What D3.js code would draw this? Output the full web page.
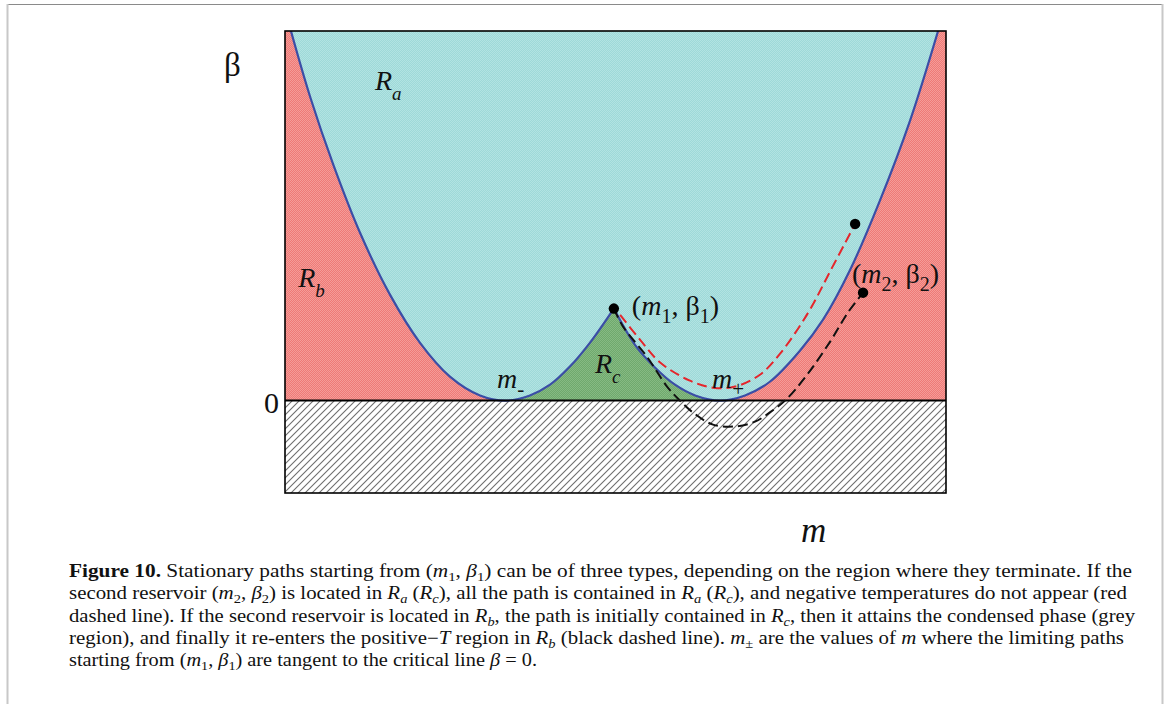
<!DOCTYPE html>
<html>
<head>
<meta charset="utf-8">
<script src="https://cdn.jsdelivr.net/npm/d3@7"></script>
<style>
  html, body { margin: 0; padding: 0; background: #fff; }
  svg { display: block; }
  text { font-family: "Liberation Serif", "DejaVu Serif", serif; fill: #111; }
</style>
</head>
<body>
<svg id="fig" width="1167" height="704"></svg>
<script>
// Phase boundary beta(m): left well (from the top edge down to m-, up to the cusp)
const boundaryLeft = [
  [-0.982, 1.000], [-0.924, 0.822], [-0.855, 0.641], [-0.773, 0.454],
  [-0.682, 0.286], [-0.592, 0.157], [-0.501, 0.065], [-0.410, 0.014],
  [-0.334, 0.000], [-0.259, 0.014], [-0.198, 0.043], [-0.138, 0.092],
  [-0.077, 0.157], [-0.005, 0.249]
];
// right well (from the cusp down to m+, up to the top edge)
const boundaryRight = [
  [-0.005, 0.249], [0.059, 0.151], [0.120, 0.089], [0.180, 0.043],
  [0.241, 0.014], [0.316, 0.000], [0.392, 0.014], [0.467, 0.051],
  [0.558, 0.135], [0.628, 0.219], [0.710, 0.354], [0.800, 0.541],
  [0.891, 0.757], [0.976, 1.000]
];
const mMinus = -0.334;
const mPlus = 0.316;

// Stationary path that stays in Ra (red dashed)
const pathRed = [
  [0.014, 0.232], [0.074, 0.165], [0.135, 0.103], [0.225, 0.054],
  [0.295, 0.035], [0.362, 0.038], [0.437, 0.070], [0.498, 0.127],
  [0.583, 0.238], [0.649, 0.349], [0.725, 0.478]
];
// Stationary path that crosses the condensed phase (black dashed)
const pathBlack = [
  [-0.005, 0.249], [0.023, 0.200], [0.095, 0.119], [0.156, 0.038],
  [0.195, 0.000], [0.234, -0.032], [0.295, -0.065], [0.362, -0.070],
  [0.422, -0.057], [0.467, -0.032], [0.513, 0.000], [0.573, 0.062],
  [0.649, 0.159], [0.703, 0.238], [0.749, 0.292]
];
// Reservoir points
const point1 = [-0.005, 0.249];
const point2 = [0.749, 0.292];
const pointRedEnd = [0.725, 0.478];

// Region labels: [main, subscript, m, beta]
const regionLabels = [
  ["R", "a", -0.728, 0.841],
  ["R", "b", -0.960, 0.308],
  ["R", "c", -0.062, 0.076]
];

const captionLines = [
  [["b", "Figure 10."], ["", " Stationary paths starting from ("], ["i", "m"], ["sub", "1"], ["", ", "], ["i", "β"], ["sub", "1"], ["", ") can be of three types, depending on the region where they terminate. If the"]],
  [["", "second reservoir ("], ["i", "m"], ["sub", "2"], ["", ", "], ["i", "β"], ["sub", "2"], ["", ") is located in "], ["i", "R"], ["isub", "a"], ["", " ("], ["i", "R"], ["isub", "c"], ["", "), all the path is contained in "], ["i", "R"], ["isub", "a"], ["", " ("], ["i", "R"], ["isub", "c"], ["", "), and negative temperatures do not appear (red"]],
  [["", "dashed line). If the second reservoir is located in "], ["i", "R"], ["isub", "b"], ["", ", the path is initially contained in "], ["i", "R"], ["isub", "c"], ["", ", then it attains the condensed phase (grey"]],
  [["", "region), and finally it re-enters the positive\u2212"], ["i", "T"], ["", " region in "], ["i", "R"], ["isub", "b"], ["", " (black dashed line). "], ["i", "m"], ["sub", "\u00b1"], ["", " are the values of "], ["i", "m"], ["", " where the limiting paths"]],
  [["", "starting from ("], ["i", "m"], ["sub", "1"], ["", ", "], ["i", "β"], ["sub", "1"], ["", ") are tangent to the critical line "], ["i", "β"], ["", " = 0."]]
];
const captionWidths = [1063, 1058, 1066, 1055, 468];

const svg = d3.select("#fig");
const W = 1167, H = 704;

// page frame
svg.append("line").attr("x1", 7).attr("x2", 1163).attr("y1", 4.5).attr("y2", 4.5)
  .attr("stroke", "#8a8a8a").attr("stroke-width", 1.2);
svg.append("line").attr("x1", 7.5).attr("x2", 7.5).attr("y1", 4).attr("y2", H)
  .attr("stroke", "#c8c8c8").attr("stroke-width", 2);
svg.append("line").attr("x1", 1162.5).attr("x2", 1162.5).attr("y1", 4).attr("y2", H)
  .attr("stroke", "#c8c8c8").attr("stroke-width", 2);

const plot = { left: 285, right: 946, top: 31, bottom: 493 };
const x = d3.scaleLinear().domain([-1, 1]).range([plot.left, plot.right]);
const y = d3.scaleLinear().domain([-0.25, 1]).range([plot.bottom, plot.top]);

const defs = svg.append("defs");
function checker(id, a, b) {
  const p = defs.append("pattern").attr("id", id).attr("patternUnits", "userSpaceOnUse")
    .attr("width", 2).attr("height", 2);
  p.append("rect").attr("width", 2).attr("height", 2).attr("fill", a);
  p.append("rect").attr("width", 1).attr("height", 1).attr("fill", b);
  p.append("rect").attr("x", 1).attr("y", 1).attr("width", 1).attr("height", 1).attr("fill", b);
}
checker("fillRed", "#ee7a77", "#f59c98");
checker("fillCyan", "#9ed9d8", "#b2e3e2");
checker("fillGreen", "#6fa96d", "#86ba83");

const hatch = defs.append("pattern").attr("id", "hatch").attr("patternUnits", "userSpaceOnUse")
  .attr("width", 7).attr("height", 7);
hatch.append("rect").attr("width", 7).attr("height", 7).attr("fill", "#fff");
hatch.append("path").attr("d", "M-1,1 l2,-2 M0,7 l7,-7 M6,8 l2,-2")
  .attr("stroke", "#6e6e6e").attr("stroke-width", 1.1);

defs.append("clipPath").attr("id", "plotClip").append("rect")
  .attr("x", plot.left).attr("y", plot.top)
  .attr("width", plot.right - plot.left).attr("height", plot.bottom - plot.top);

const g = svg.append("g").attr("clip-path", "url(#plotClip)");

const line = d3.line().x(d => x(d[0])).y(d => y(d[1])).curve(d3.curveCatmullRom.alpha(0.5));

// Rb: everything with beta > 0
g.append("rect").attr("x", x(-1)).attr("y", y(1))
  .attr("width", x(1) - x(-1)).attr("height", y(0) - y(1)).attr("fill", "url(#fillRed)");
// Rc: between m- and m+ (the part above the boundary is covered by Ra)
g.append("rect").attr("x", x(mMinus)).attr("y", y(1))
  .attr("width", x(mPlus) - x(mMinus)).attr("height", y(0) - y(1)).attr("fill", "url(#fillGreen)");
// Ra: above the boundary
const boundaryPath = line(boundaryLeft) + line(boundaryRight).replace(/^M/, "L");
g.append("path").attr("d", boundaryPath + "Z").attr("fill", "url(#fillCyan)");
// condensed phase beta < 0
g.append("rect").attr("x", x(-1)).attr("y", y(0))
  .attr("width", x(1) - x(-1)).attr("height", y(-0.25) - y(0)).attr("fill", "url(#hatch)");

// boundary curve
g.append("path").attr("d", line(boundaryLeft)).attr("fill", "none")
  .attr("stroke", "#3b4ea6").attr("stroke-width", 2.2);
g.append("path").attr("d", line(boundaryRight)).attr("fill", "none")
  .attr("stroke", "#3b4ea6").attr("stroke-width", 2.2);

// critical line beta = 0
g.append("line").attr("x1", x(-1)).attr("x2", x(1)).attr("y1", y(0)).attr("y2", y(0))
  .attr("stroke", "#000").attr("stroke-width", 2);

// stationary paths
g.append("path").attr("d", line(pathRed)).attr("fill", "none")
  .attr("stroke", "#e4262c").attr("stroke-width", 2).attr("stroke-dasharray", "10,5");
g.append("path").attr("d", line(pathBlack)).attr("fill", "none")
  .attr("stroke", "#111").attr("stroke-width", 2).attr("stroke-dasharray", "10,5");

// reservoir points
[point1, point2, pointRedEnd].forEach(p => {
  g.append("circle").attr("cx", x(p[0])).attr("cy", y(p[1])).attr("r", 5.2).attr("fill", "#000");
});

// plot frame
svg.append("rect").attr("x", plot.left).attr("y", plot.top)
  .attr("width", plot.right - plot.left).attr("height", plot.bottom - plot.top)
  .attr("fill", "none").attr("stroke", "#000").attr("stroke-width", 1.6);

// axis labels
svg.append("text").attr("x", 224).attr("y", 76).attr("font-size", 33).text("β");
svg.append("text").attr("x", 279).attr("y", 413).attr("text-anchor", "end").attr("font-size", 30).text("0");
svg.append("text").attr("x", 801).attr("y", 542).attr("font-size", 35).attr("font-style", "italic").text("m");

// region labels
regionLabels.forEach(([main, sub, m, b]) => {
  const t = svg.append("text").attr("x", x(m)).attr("y", y(b)).attr("font-size", 28);
  t.append("tspan").attr("font-style", "italic").text(main);
  t.append("tspan").attr("font-style", "italic").attr("font-size", 19).attr("dy", 10).text(sub);
});

// m- and m+ labels
function mLabel(mVal, sub) {
  const t = svg.append("text").attr("x", x(mVal) - 8).attr("y", y(0) - 13).attr("font-size", 28);
  t.append("tspan").attr("font-style", "italic").text("m");
  t.append("tspan").attr("font-size", 21).attr("dy", 8).text(sub);
}
mLabel(mMinus, "-");
mLabel(mPlus, "+");

// point labels
function pointLabel(p, dx, dy, idx) {
  const t = svg.append("text").attr("x", x(p[0]) + dx).attr("y", y(p[1]) + dy).attr("font-size", 28);
  t.append("tspan").text("(");
  t.append("tspan").attr("font-style", "italic").text("m");
  t.append("tspan").attr("font-size", 20).attr("dy", 8).text(idx);
  t.append("tspan").attr("dy", -8).text(", β");
  t.append("tspan").attr("font-size", 20).attr("dy", 8).text(idx);
  t.append("tspan").attr("dy", -8).text(")");
}
pointLabel(point1, 18, 6, "1");
pointLabel(point2, -11, -10, "2");

// caption
const capX = 69, capY0 = 577, capDy = 22.3;
captionLines.forEach((parts, i) => {
  const t = svg.append("text").attr("x", capX).attr("y", capY0 + i * capDy).attr("font-size", 18)
    .attr("textLength", captionWidths[i]).attr("lengthAdjust", "spacingAndGlyphs");
  let shifted = false;
  parts.forEach(([kind, str]) => {
    const s = t.append("tspan").text(str);
    if (kind === "b") s.attr("font-weight", "bold");
    if (kind === "i") s.attr("font-style", "italic");
    if (kind === "sub" || kind === "isub") {
      s.attr("font-size", 12.5).attr("dy", 4);
      if (kind === "isub") s.attr("font-style", "italic");
      shifted = true;
    } else if (shifted) {
      s.attr("dy", -4);
      shifted = false;
    }
  });
});
</script>
</body>
</html>
